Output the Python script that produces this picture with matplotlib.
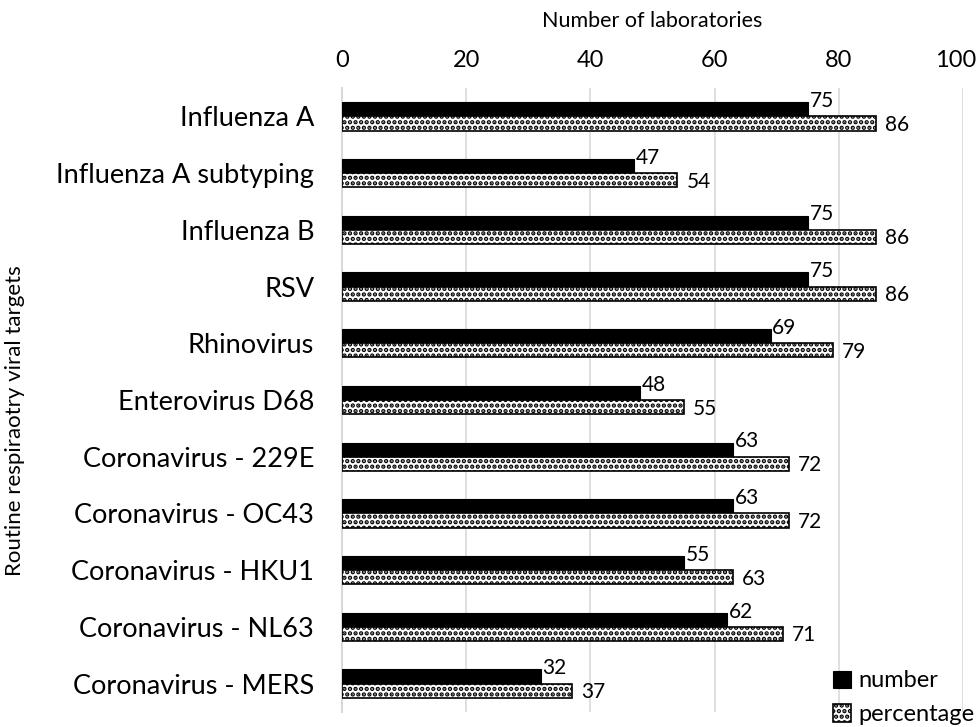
import numpy as np
import matplotlib.pyplot as plt
import matplotlib as mpl
from matplotlib.transforms import ScaledTranslation

targets = ['Influenza A', 'Influenza A subtyping', 'Influenza B', 'RSV', 'Rhinovirus',
           'Enterovirus D68', 'Coronavirus - 229E', 'Coronavirus - OC43', 'Coronavirus - HKU1',
           'Coronavirus - NL63', 'Coronavirus - MERS']
number = [75, 47, 75, 75, 69, 48, 63, 63, 55, 62, 32]
percentage = [86, 54, 86, 86, 79, 55, 72, 72, 63, 71, 37]

plt.rcParams['font.family'] = ['Lato', 'DejaVu Sans']
mpl.rcParams['hatch.linewidth'] = 2.2

fig = plt.figure(figsize=(9.76, 7.27), dpi=100)
ax = fig.add_axes([0.3504, 0.0206, 0.6363, 0.8584])

y = np.arange(len(targets))
h = 0.25
ax.barh(y - h/2, number, height=h, color='black', edgecolor='black', linewidth=0.8, label='number', zorder=3)
ax.barh(y + h/2, percentage, height=h, color='white', edgecolor='black', hatch='...',
        linewidth=1.2, label='percentage', zorder=3)

for i in range(len(targets)):
    ax.text(number[i] + 0.3, i - 0.27, str(number[i]), ha='left', va='center', fontsize=15, zorder=4)
    ax.text(percentage[i] + 1.45, i + 0.15, str(percentage[i]), ha='left', va='center', fontsize=15, zorder=4)

ax.set_xlim(0, 100)
ax.set_ylim(len(targets) - 0.5, -0.5)
ax.set_xticks(np.arange(0, 101, 20))
ax.xaxis.tick_top()
ax.xaxis.set_label_position('top')
ax.set_xlabel('Number of laboratories', fontsize=15.5, labelpad=17)
ax.set_yticks(y)
ax.set_yticklabels(targets, fontsize=19.5)
ax.tick_params(axis='x', labelsize=17, length=0, pad=12)
ax.tick_params(axis='y', length=0, pad=20)
ax.grid(axis='x', color='#d9d9d9', linewidth=1.2, zorder=0)
for s in ['top', 'right', 'bottom']:
    ax.spines[s].set_visible(False)
ax.spines['left'].set_color('#d9d9d9')
ax.spines['left'].set_linewidth(1.5)

# keep the "100" label inside the figure
last = ax.get_xticklabels()[-1]
last.set_transform(last.get_transform() + ScaledTranslation(-0.07, 0, fig.dpi_scale_trans))

fig.text(15 / 976, 1 - 421 / 727, 'Routine respiraotry viral targets', rotation=90,
         ha='center', va='center', fontsize=16)

fig.legend(loc='lower right', bbox_to_anchor=(1.02, -0.027), frameon=False, fontsize=17,
           handlelength=0.75, handleheight=0.75, handletextpad=0.3, labelspacing=0.55)

fig.savefig('out.png', dpi=100)
